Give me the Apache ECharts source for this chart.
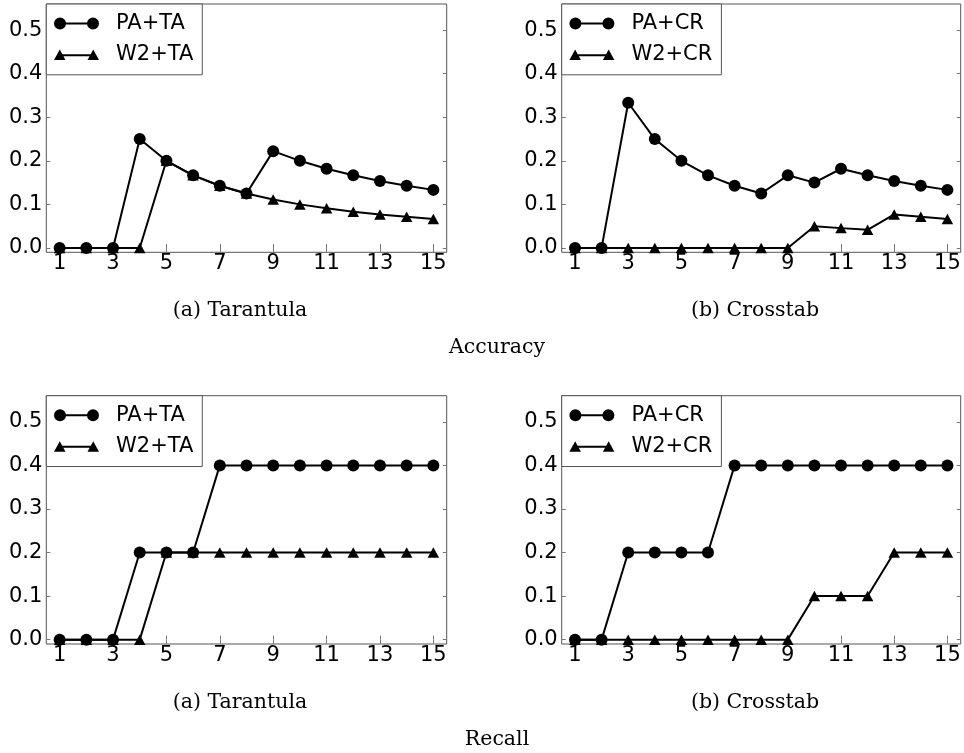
<!DOCTYPE html>
<html>
<head>
<meta charset="utf-8">
<script src="https://cdn.jsdelivr.net/npm/echarts@6/dist/echarts.min.js"></script>
<style>
html,body{margin:0;padding:0;background:#fff;}
#main{width:964px;height:753px;}
</style>
</head>
<body>
<div id="main"></div>
<script>
const iterations = [1,2,3,4,5,6,7,8,9,10,11,12,13,14,15];
const xTickValues = [1,3,5,7,9,11,13,15];
const yTickValues = [0,0.1,0.2,0.3,0.4,0.5];

// Accuracy
const accPA_TA = [0,0,0,0.25,0.2,0.1667,0.1429,0.125,0.2222,0.2,0.1818,0.1667,0.1538,0.1429,0.1333];
const accW2_TA = [0,0,0,0,0.2,0.1667,0.1429,0.125,0.1111,0.1,0.0909,0.0833,0.0769,0.0714,0.0667];
const accPA_CR = [0,0,0.3333,0.25,0.2,0.1667,0.1429,0.125,0.1667,0.15,0.1818,0.1667,0.1538,0.1429,0.1333];
const accW2_CR = [0,0,0,0,0,0,0,0,0,0.05,0.0455,0.0417,0.0769,0.0714,0.0667];
// Recall
const recPA_TA = [0,0,0,0.2,0.2,0.2,0.4,0.4,0.4,0.4,0.4,0.4,0.4,0.4,0.4];
const recW2_TA = [0,0,0,0,0.2,0.2,0.2,0.2,0.2,0.2,0.2,0.2,0.2,0.2,0.2];
const recPA_CR = [0,0,0.2,0.2,0.2,0.2,0.4,0.4,0.4,0.4,0.4,0.4,0.4,0.4,0.4];
const recW2_CR = [0,0,0,0,0,0,0,0,0,0.1,0.1,0.1,0.2,0.2,0.2];

const captions = ['(a) Tarantula','(b) Crosstab','Accuracy','Recall'];

const circleIcon = 'path://M0,6A6,6,0,1,1,12,6A6,6,0,1,1,0,6Z M11,5L34,5L34,7L11,7Z M33,6A6,6,0,1,1,45,6A6,6,0,1,1,33,6Z';
const triIcon = 'path://M0,10.5L5.75,0L11.5,10.5Z M8,4.6L37,4.6L37,6.6L8,6.6Z M33.5,10.5L39.25,0L45,10.5Z';

const panels = [
  {left:46.3, top:4, width:400.4, names:['PA+TA','W2+TA'], data:[accPA_TA, accW2_TA]},
  {left:561.7, top:4, width:399, names:['PA+CR','W2+CR'], data:[accPA_CR, accW2_CR]},
  {left:46.3, top:395.7, width:400.4, names:['PA+TA','W2+TA'], data:[recPA_TA, recW2_TA]},
  {left:561.7, top:395.7, width:399, names:['PA+CR','W2+CR'], data:[recPA_CR, recW2_CR]}
];
const H = 248.3;
const tickFont = 'DejaVu Sans';
const grids = [], xAxes = [], yAxes = [], series = [], legends = [];

panels.forEach((p, g) => {
  grids.push({left:p.left, top:p.top, width:p.width, height:H, show:true,
    borderColor:'#555', borderWidth:1, backgroundColor:'#fff'});
  const baseX = {type:'value', gridIndex:g, min:0.5, max:15.5,
    axisLine:{show:false}, splitLine:{show:false},
    axisTick:{show:true, inside:true, length:4, customValues:xTickValues, lineStyle:{color:'#777', width:1}}};
  xAxes.push(Object.assign({}, baseX, {position:'bottom',
    axisLabel:{show:true, customValues:xTickValues, margin:1, color:'#000', fontFamily:tickFont, fontSize:21}}));
  xAxes.push(Object.assign({}, baseX, {position:'top', axisLabel:{show:false}}));
  const baseY = {type:'value', gridIndex:g, min:-0.01, max:0.56,
    axisLine:{show:false}, splitLine:{show:false},
    axisTick:{show:true, inside:true, length:4, customValues:yTickValues, lineStyle:{color:'#777', width:1}}};
  yAxes.push(Object.assign({}, baseY, {position:'left',
    axisLabel:{show:true, customValues:yTickValues, margin:4, color:'#000', fontFamily:tickFont, fontSize:21,
      formatter:v => v.toFixed(1)}}));
  yAxes.push(Object.assign({}, baseY, {position:'right', axisLabel:{show:false}}));

  p.names.forEach((nm, k) => {
    series.push({
      type:'line', name:nm, xAxisIndex:2*g, yAxisIndex:2*g,
      data: iterations.map((x, i) => [x, p.data[k][i]]),
      symbol: k === 0 ? 'circle' : 'triangle',
      symbolSize: k === 0 ? 12 : [11.5, 10.5],
      showAllSymbol:true,
      itemStyle:{color:'#000', borderWidth:0},
      lineStyle:{color:'#000', width:2},
      emphasis:{disabled:true},
      animation:false, clip:false, z: 2 + k
    });
  });

  legends.push({
    orient:'vertical', left:p.left, top:p.top,
    data:[{name:p.names[0], icon:circleIcon}, {name:p.names[1], icon:triIcon}],
    itemWidth:45, itemHeight:12, itemGap:10.3,
    padding:[9, 9, 9.5, 7.7],
    borderColor:'#555', borderWidth:1, backgroundColor:'#fff', borderRadius:0,
    selectedMode:false,
    itemStyle:{color:'#000', borderWidth:0},
    textStyle:{fontFamily:tickFont, fontSize:21, color:'#000', padding:[0,0,0,12]},
    z:10
  });
});

const capFont = '20.5px "DejaVu Serif"';
function cap(text, x, y){
  return {type:'text', x:x, y:y, silent:true, z:20,
    style:{text:text, font:capFont, fill:'#000', textAlign:'center', textVerticalAlign:'middle', align:'center', verticalAlign:'middle'}};
}
const graphics = [
  cap(captions[0], 240, 310.5),
  cap(captions[1], 755, 310.5),
  cap(captions[2], 497, 348),
  cap(captions[0], 240, 702.3),
  cap(captions[1], 755, 702.3),
  cap(captions[3], 497, 740)
];

const chart = echarts.init(document.getElementById('main'), null, {renderer:'canvas'});
chart.setOption({
  animation:false,
  backgroundColor:'#fff',
  grid:grids, xAxis:xAxes, yAxis:yAxes, series:series, legend:legends,
  graphic:graphics
});
</script>
</body>
</html>
